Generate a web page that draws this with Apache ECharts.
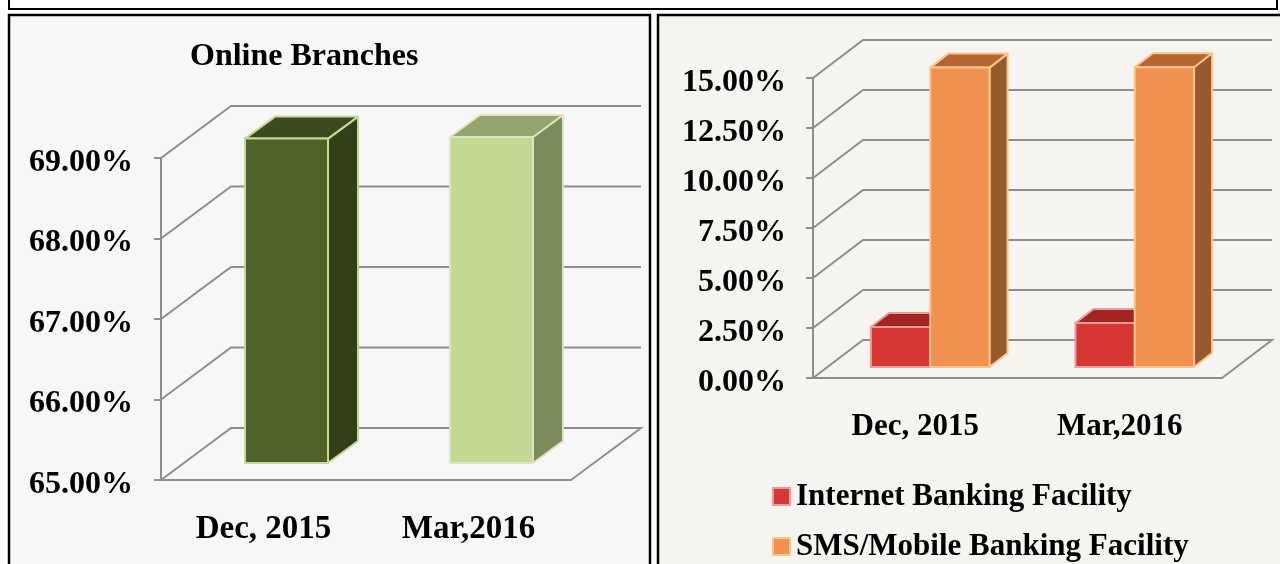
<!DOCTYPE html>
<html>
<head>
<meta charset="utf-8">
<script src="https://cdn.jsdelivr.net/npm/echarts@6/dist/echarts.min.js"></script>
<style>
  html, body { margin: 0; padding: 0; background: #fff; }
  #main { width: 1280px; height: 564px; }
</style>
</head>
<body>
<div id="main"></div>
<script>
// data
var categories = ['Dec, 2015', 'Mar,2016'];
var onlineBranches = [69.03, 69.05];
var internetBanking = [2.0, 2.2];
var smsBanking = [14.97, 14.99];
var leftTicks = [65, 66, 67, 68, 69];
var rightTicks = [0, 2.5, 5, 7.5, 10, 12.5, 15];

var FONT = '"Liberation Serif", "Times New Roman", serif';

// faces: front, side, top, border
var leftColors = [
    { front: '#4f6228', side: '#333f18', top: '#3c4a1e', border: '#c4d99b' },
    { front: '#c3d891', side: '#7b8b5a', top: '#93a56b', border: '#d9e6bf' }
];
var internetColor = { front: '#d63734', side: '#8f201d', top: '#a32522', border: '#e99c9a' };
var smsColor = { front: '#f0914f', side: '#985a2d', top: '#b56630', border: '#fcc590' };

function wallRender(min, dx, dy) {
    return function (params, api) {
        var cs = params.coordSys;
        var x0 = cs.x, x1 = cs.x + cs.width;
        var v = api.value(1);
        var y = api.coord([0, v])[1];
        var pts = [[x0, y], [x0 + dx, y + dy], [x1 + dx, y + dy]];
        if (v === min) pts.push([x1, y]);
        return {
            type: 'polyline',
            shape: { points: pts },
            style: { stroke: '#8d8d8d', lineWidth: 2, fill: null }
        };
    };
}

function barRender(cfg) {
    return function (params, api) {
        var idx = api.value(0), val = api.value(1);
        var top = api.coord([idx, val]);
        var bot = api.coord([idx, cfg.min]);
        var bw = api.size([1, 0])[0];
        var w = bw * cfg.width;
        var col = cfg.colors ? cfg.colors[idx] : cfg.color;
        var xl = top[0] + cfg.ox + cfg.pos * w;
        var xr = xl + w;
        var yt = top[1] + cfg.oy, yb = bot[1] + cfg.oy;
        var dx = cfg.dx, dy = cfg.dy;
        var st = { stroke: col.border, lineWidth: 2, lineJoin: 'round' };
        return {
            type: 'group',
            children: [
                { type: 'polygon', shape: { points: [[xr, yt], [xr + dx, yt + dy], [xr + dx, yb + dy], [xr, yb]] },
                  style: Object.assign({ fill: col.side }, st) },
                { type: 'polygon', shape: { points: [[xl, yt], [xl + dx, yt + dy], [xr + dx, yt + dy], [xr, yt]] },
                  style: Object.assign({ fill: col.top }, st) },
                { type: 'rect', shape: { x: xl, y: yt, width: w, height: yb - yt },
                  style: Object.assign({ fill: col.front }, st) }
            ]
        };
    };
}

var myChart = echarts.init(document.getElementById('main'));

var yLabel = {
    fontFamily: FONT, fontWeight: 'bold', fontSize: 32, color: '#000',
    verticalAlign: 'top', lineHeight: 9,
    formatter: function (v) { return v.toFixed(2) + '%'; }
};

var option = {
    backgroundColor: '#ffffff',
    animation: false,
    graphic: [
        { type: 'rect', z: -10, shape: { x: 9, y: -3, width: 1268, height: 12 },
          style: { fill: '#ffffff', stroke: '#000', lineWidth: 2 } },
        { type: 'rect', z: -10, shape: { x: 9, y: 15, width: 641, height: 560 },
          style: { fill: '#f7f7f7', stroke: '#000', lineWidth: 2.5 } },
        { type: 'rect', z: -10, shape: { x: 658, y: 15, width: 640, height: 560 },
          style: { fill: '#f5f4f0', stroke: '#000', lineWidth: 2.5 } }
    ],
    title: {
        text: 'Online Branches',
        left: 190,
        top: 41,
        padding: 0,
        textStyle: { fontFamily: FONT, fontWeight: 'bold', fontSize: 32, color: '#000' }
    },
    legend: {
        orient: 'vertical',
        left: 772,
        top: 481,
        height: 90,
        padding: 0,
        itemWidth: 17,
        itemHeight: 17,
        itemGap: 19,
        icon: 'rect',
        textStyle: { fontFamily: FONT, fontWeight: 'bold', fontSize: 31, lineHeight: 30, color: '#000', padding: [0, 0, 0, 1] },
        data: [
            { name: 'Internet Banking Facility', itemStyle: { color: internetColor.front, borderColor: internetColor.border, borderWidth: 2 } },
            { name: 'SMS/Mobile Banking Facility', itemStyle: { color: smsColor.front, borderColor: smsColor.border, borderWidth: 2 } }
        ]
    },
    grid: [
        { left: 161, top: 158, width: 410, height: 322 },
        { left: 813, top: 78, width: 409, height: 300 }
    ],
    xAxis: [
        {
            type: 'category', gridIndex: 0, data: categories, boundaryGap: true,
            axisLine: { lineStyle: { color: '#8d8d8d', width: 2 } },
            axisTick: { length: 8, lineStyle: { color: '#8d8d8d', width: 2 } },
            axisLabel: { margin: 33, fontFamily: FONT, fontWeight: 'bold', fontSize: 33, color: '#000' },
            splitLine: { show: false }
        },
        {
            type: 'category', gridIndex: 1, data: categories, boundaryGap: true,
            axisLine: { lineStyle: { color: '#8d8d8d', width: 2 } },
            axisTick: { length: 8, lineStyle: { color: '#8d8d8d', width: 2 } },
            axisLabel: { margin: 33, fontFamily: FONT, fontWeight: 'bold', fontSize: 31, color: '#000' },
            splitLine: { show: false }
        }
    ],
    yAxis: [
        {
            type: 'value', gridIndex: 0, min: 65, max: 69, interval: 1,
            axisLine: { show: true, lineStyle: { color: '#8d8d8d', width: 2 } },
            axisTick: { show: true, length: 7, lineStyle: { color: '#8d8d8d', width: 2 } },
            axisLabel: Object.assign({ margin: 28 }, yLabel),
            splitLine: { show: false }
        },
        {
            type: 'value', gridIndex: 1, min: 0, max: 15, interval: 2.5,
            axisLine: { show: true, lineStyle: { color: '#8d8d8d', width: 2 } },
            axisTick: { show: true, length: 7, lineStyle: { color: '#8d8d8d', width: 2 } },
            axisLabel: Object.assign({ margin: 27 }, yLabel),
            splitLine: { show: false }
        }
    ],
    series: [
        {
            type: 'custom', name: 'wallL', xAxisIndex: 0, yAxisIndex: 0, z: 1, clip: false, silent: true,
            renderItem: wallRender(65, 70, -52),
            data: leftTicks.map(function (v) { return [0, v]; })
        },
        {
            type: 'custom', name: 'wallR', xAxisIndex: 1, yAxisIndex: 1, z: 1, clip: false, silent: true,
            renderItem: wallRender(0, 50, -38),
            data: rightTicks.map(function (v) { return [0, v]; })
        },
        {
            type: 'custom', name: 'Online Branches', xAxisIndex: 0, yAxisIndex: 0, z: 3, clip: false,
            renderItem: barRender({ min: 65, width: 0.405, ox: 23, oy: -17, pos: -0.5, dx: 30, dy: -22, colors: leftColors }),
            data: onlineBranches.map(function (v, i) { return [i, v]; })
        },
        {
            type: 'custom', name: 'Internet Banking Facility', xAxisIndex: 1, yAxisIndex: 1, z: 3, clip: false,
            itemStyle: { color: internetColor.front },
            renderItem: barRender({ min: 0, width: 0.29, ox: 15, oy: -11, pos: -1, dx: 18, dy: -14, color: internetColor }),
            data: internetBanking.map(function (v, i) { return [i, v]; })
        },
        {
            type: 'custom', name: 'SMS/Mobile Banking Facility', xAxisIndex: 1, yAxisIndex: 1, z: 4, clip: false,
            itemStyle: { color: smsColor.front },
            renderItem: barRender({ min: 0, width: 0.29, ox: 15, oy: -11, pos: 0, dx: 18, dy: -14, color: smsColor }),
            data: smsBanking.map(function (v, i) { return [i, v]; })
        }
    ]
};

myChart.setOption(option);
</script>
</body>
</html>
